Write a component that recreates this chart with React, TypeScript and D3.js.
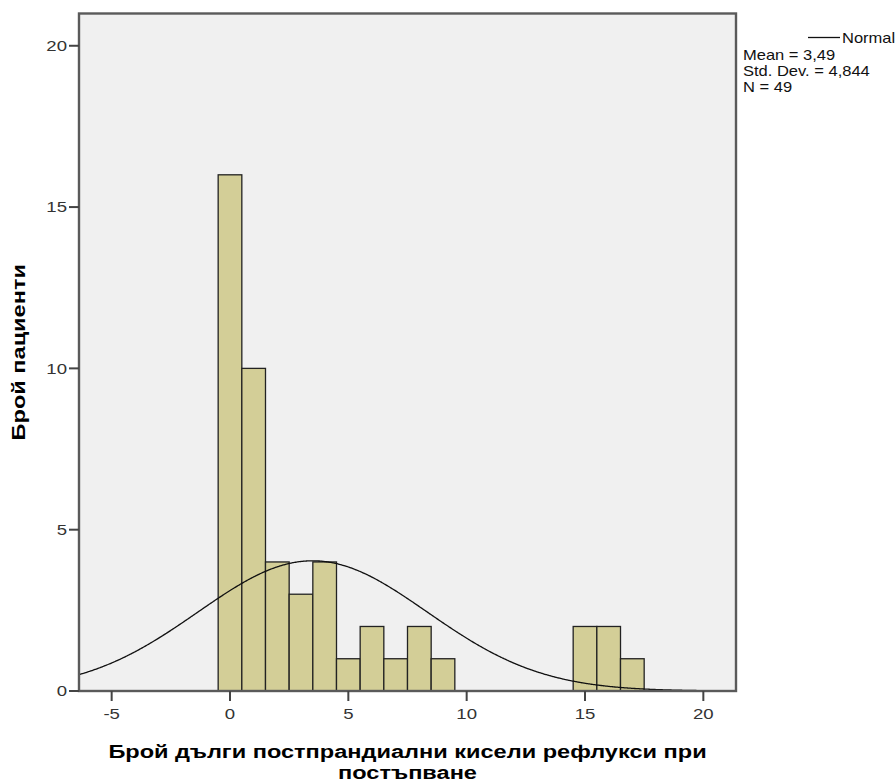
import React from "react";
import * as d3 from "d3";

// Histogram bins (width 1, centred on integers) and patient counts
const binStarts = [-0.5, 0.5, 1.5, 2.5, 3.5, 4.5, 5.5, 6.5, 7.5, 8.5, 9.5, 10.5, 11.5, 12.5, 13.5, 14.5, 15.5, 16.5];
const counts = [16, 10, 4, 3, 4, 1, 2, 1, 2, 1, 0, 0, 0, 0, 0, 2, 2, 1];
const binWidth = 1;

// Summary statistics shown in the legend
const mean = 3.49;
const stdDev = 4.844;
const n = 49;

const xTicks = [-5, 0, 5, 10, 15, 20];
const yTicks = [0, 5, 10, 15, 20];
const xDomain = [-6.38, 21.38];
const yDomain = [0, 21];

const xTitle = ["Брой дълги постпрандиални кисели рефлукси при", "постъпване"];
const yTitle = "Брой пациенти";

const W = 896;
const H = 783;
const plot = { left: 79, right: 736, top: 13.5, bottom: 691 };
const FONT = "'Liberation Sans', Arial, Helvetica, sans-serif";
// glyphs are drawn a little wider than the font's natural advance
const WIDEN = 1.24;

type LabelProps = {
  x: number;
  y: number;
  size: number;
  anchor?: "start" | "middle" | "end";
  bold?: boolean;
  rotate?: number;
  fill?: string;
  dy?: string;
  widen?: number;
  children: React.ReactNode;
};

function Label({ x, y, size, anchor = "start", bold, rotate = 0, fill = "#111", dy, widen = WIDEN, children }: LabelProps) {
  return (
    <text
      transform={`translate(${x},${y}) rotate(${rotate}) scale(${widen},1)`}
      textAnchor={anchor}
      fontFamily={FONT}
      fontSize={size}
      fontWeight={bold ? "bold" : "normal"}
      fill={fill}
      dy={dy}
    >
      {children}
    </text>
  );
}

export default function App() {
  const x = d3.scaleLinear().domain(xDomain).range([plot.left, plot.right]);
  const y = d3.scaleLinear().domain(yDomain).range([plot.bottom, plot.top]);

  // Normal curve scaled to counts: n * binWidth * pdf
  const pdf = (v: number) =>
    (n * binWidth) / (stdDev * Math.sqrt(2 * Math.PI)) *
    Math.exp(-0.5 * ((v - mean) / stdDev) ** 2);
  const curvePts = d3.range(xDomain[0], xDomain[1] + 0.001, 0.05).map((v) => [v, pdf(v)] as [number, number]);
  const line = d3
    .line<[number, number]>()
    .x((d) => x(d[0]))
    .y((d) => y(d[1]))
    .curve(d3.curveMonotoneX);

  const bars = binStarts
    .map((s, i) => ({ s, c: counts[i] }))
    .filter((b) => b.c > 0);

  const legendWiden = 1.18;

  return (
    <svg width={W} height={H} style={{ position: "absolute", left: 0, top: 0, background: "#fff" }}>
      <defs>
        <clipPath id="plotClip">
          <rect x={plot.left} y={plot.top} width={plot.right - plot.left} height={plot.bottom - plot.top} />
        </clipPath>
      </defs>
      <rect x={plot.left} y={plot.top} width={plot.right - plot.left} height={plot.bottom - plot.top} fill="#f0f0f0" />

      {bars.map((b, i) => (
        <rect
          key={i}
          x={x(b.s)}
          y={y(b.c)}
          width={x(b.s + binWidth) - x(b.s)}
          height={y(0) - y(b.c)}
          fill="#d3ce97"
          stroke="#222"
          strokeWidth={1.3}
        />
      ))}

      <path d={line(curvePts) || ""} fill="none" stroke="#111" strokeWidth={1.3} clipPath="url(#plotClip)" />

      {/* frame */}
      <rect
        x={plot.left}
        y={plot.top}
        width={plot.right - plot.left}
        height={plot.bottom - plot.top}
        fill="none"
        stroke="#5a5a5a"
        strokeWidth={2.4}
      />

      {/* y axis ticks */}
      {yTicks.map((t) => (
        <g key={"y" + t}>
          <line x1={plot.left - 10} x2={plot.left} y1={y(t)} y2={y(t)} stroke="#444" strokeWidth={2} />
          <Label x={plot.left - 12} y={y(t)} dy="0.36em" anchor="end" size={15} fill="#333">
            {t}
          </Label>
        </g>
      ))}

      {/* x axis ticks */}
      {xTicks.map((t) => (
        <g key={"x" + t}>
          <line x1={x(t)} x2={x(t)} y1={plot.bottom} y2={plot.bottom + 10} stroke="#444" strokeWidth={2} />
          <Label x={x(t)} y={719} anchor="middle" size={15} fill="#333">
            {t}
          </Label>
        </g>
      ))}

      {/* axis titles */}
      <Label x={25} y={(plot.top + plot.bottom) / 2} rotate={-90} anchor="middle" size={19} bold fill="#000">
        {yTitle}
      </Label>
      {xTitle.map((s, i) => (
        <Label key={i} x={(plot.left + plot.right) / 2} y={758 + i * 21} anchor="middle" size={19} bold fill="#000">
          {s}
        </Label>
      ))}

      {/* legend */}
      <line x1={808} x2={840} y1={37.5} y2={37.5} stroke="#111" strokeWidth={1.3} />
      <Label x={842} y={43} size={14} widen={legendWiden}>Normal</Label>
      <Label x={743} y={60} size={14} widen={legendWiden}>{`Mean = ${mean.toFixed(2).replace(".", ",")}`}</Label>
      <Label x={743} y={76} size={14} widen={legendWiden}>{`Std. Dev. = ${stdDev.toFixed(3).replace(".", ",")}`}</Label>
      <Label x={743} y={92} size={14} widen={legendWiden}>{`N = ${n}`}</Label>
    </svg>
  );
}
